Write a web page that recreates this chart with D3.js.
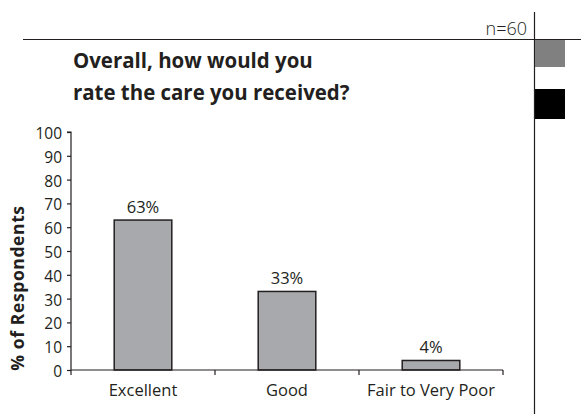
<!DOCTYPE html>
<html>
<head>
<meta charset="utf-8">
<script src="https://cdn.jsdelivr.net/npm/d3@7"></script>
<style>
  html, body { margin: 0; padding: 0; background: #fff; }
  svg { display: block; }
  text { font-family: "Open Sans", "Noto Sans", sans-serif; fill: #231f20; }
</style>
</head>
<body>
<svg id="chart" width="581" height="414"></svg>
<script>
// Survey responses
const categories = ["Excellent", "Good", "Fair to Very Poor"];
const values = [63, 33, 4];
const yTicks = [0, 10, 20, 30, 40, 50, 60, 70, 80, 90, 100];
const titleLines = ["Overall, how would you", "rate the care you received?"];
const sampleLabel = "n=60";
const yTitle = "% of Respondents";

const svg = d3.select("#chart");
const ink = "#231f20";

// Scale glyphs of a text selection by factor k along the reading direction
function widen(sel, k) {
  sel.each(function () {
    const w = this.getComputedTextLength();
    d3.select(this).attr("textLength", w * k).attr("lengthAdjust", "spacingAndGlyphs");
  });
}

// Page frame: header rule, side rule and side markers
svg.append("line").attr("x1", 23).attr("x2", 581).attr("y1", 39.5).attr("y2", 39.5)
  .attr("stroke", ink).attr("stroke-width", 1.2);
svg.append("line").attr("x1", 534.5).attr("x2", 534.5).attr("y1", 12).attr("y2", 414)
  .attr("stroke", ink).attr("stroke-width", 1.2);
svg.append("rect").attr("x", 535).attr("y", 40).attr("width", 30).attr("height", 27).attr("fill", "#808080");
svg.append("rect").attr("x", 535).attr("y", 89).attr("width", 30).attr("height", 30).attr("fill", "#000");

svg.append("text").attr("x", 527).attr("y", 35).attr("text-anchor", "end")
  .attr("font-size", 18).attr("font-weight", 300).text(sampleLabel);

svg.selectAll("text.title").data(titleLines).enter().append("text")
  .attr("class", "title")
  .attr("x", 73).attr("y", (d, i) => 68 + i * 32)
  .attr("font-family", "Lato, 'Open Sans', sans-serif")
  .attr("font-size", 21.5).attr("font-weight", 700)
  .text(d => d)
  .call(widen, 0.95);

// Plot area
const x0 = 71, x1 = 503, yTop = 132, yBottom = 370;
const x = d3.scaleBand().domain(categories).range([x0, x1]).padding(0);
const y = d3.scaleLinear().domain([0, 100]).range([yBottom, yTop]);
const barW = x.bandwidth() * 0.4;

const g = svg.append("g");

g.selectAll("rect.bar").data(values).enter().append("rect")
  .attr("class", "bar")
  .attr("x", (d, i) => x(categories[i]) + (x.bandwidth() - barW) / 2)
  .attr("y", d => y(d))
  .attr("width", barW)
  .attr("height", d => y(0) - y(d))
  .attr("fill", "#a7a9ac")
  .attr("stroke", ink).attr("stroke-width", 1.5);

g.selectAll("text.val").data(values).enter().append("text")
  .attr("class", "val")
  .attr("x", (d, i) => x(categories[i]) + x.bandwidth() / 2)
  .attr("y", d => y(d) - 7)
  .attr("text-anchor", "middle").attr("font-size", 16.5)
  .text(d => d + "%");

// Y axis
const yAxis = g.append("g").attr("transform", `translate(${x0},0)`)
  .call(d3.axisLeft(y).tickValues(yTicks).tickSize(4).tickPadding(5).tickFormat(d3.format("d")));
yAxis.select(".domain").attr("stroke", ink).attr("stroke-width", 1.2).attr("d", `M-4,${yTop}H0V${yBottom}`);
yAxis.selectAll(".tick line").attr("stroke", ink).attr("stroke-width", 1.2);
yAxis.selectAll(".tick text")
  .attr("font-size", 15.5).attr("fill", ink).attr("dy", "0.42em")
  .attr("font-family", "'Open Sans', 'Noto Sans', sans-serif");

// X axis: ticks at category boundaries
const xAxisG = g.append("g").attr("transform", `translate(0,${yBottom})`);
xAxisG.append("line").attr("x1", x0).attr("x2", x1).attr("y1", 0).attr("y2", 0)
  .attr("stroke", ink).attr("stroke-width", 1.2);
const bounds = categories.map(c => x(c)).concat([x1]);
xAxisG.selectAll("line.tk").data(bounds).enter().append("line")
  .attr("class", "tk")
  .attr("x1", d => d).attr("x2", d => d).attr("y1", 0).attr("y2", 5)
  .attr("stroke", ink).attr("stroke-width", 1.2);
xAxisG.selectAll("text.cat").data(categories).enter().append("text")
  .attr("class", "cat")
  .attr("x", d => x(d) + x.bandwidth() / 2).attr("y", 25.7)
  .attr("text-anchor", "middle").attr("font-size", 16.5)
  .text(d => d);

// Y axis title
svg.append("text")
  .attr("transform", `translate(23.5,288) rotate(-90)`)
  .attr("text-anchor", "middle").attr("font-size", 17.5).attr("font-weight", 700)
  .attr("letter-spacing", 0.6)
  .text(yTitle);
</script>
</body>
</html>
